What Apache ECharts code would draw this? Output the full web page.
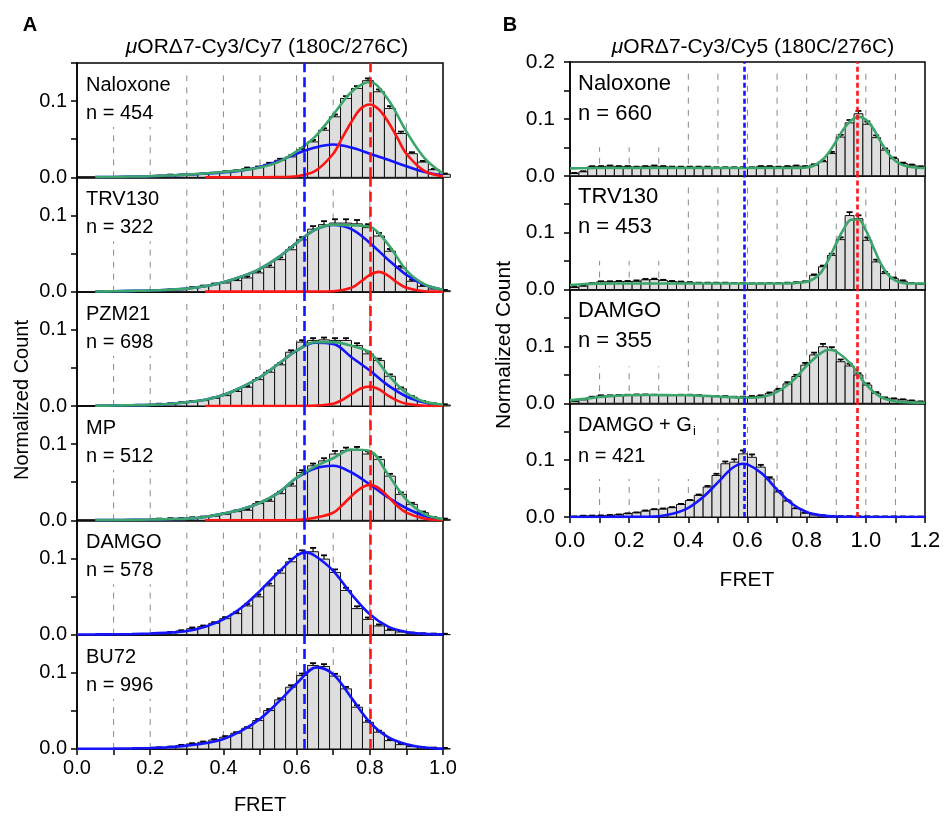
<!DOCTYPE html>
<html><head><meta charset="utf-8">
<script src="https://cdn.jsdelivr.net/npm/echarts@6/dist/echarts.min.js"></script>
<style>html,body{margin:0;padding:0;background:#fff}#c{width:945px;height:816px}</style>
</head><body><div id="c"></div>
<script>
// ---------------- DATA ----------------
const BIN = 0.03; // histogram bin width (FRET)
const xLabelsA = ['0.0','0.2','0.4','0.6','0.8','1.0'];
const xLabelsB = ['0.0','0.2','0.4','0.6','0.8','1.0','1.2'];
const titleA = 'ORΔ7-Cy3/Cy7 (180C/276C)';
const titleB = 'ORΔ7-Cy3/Cy5 (180C/276C)';
const namesA = ['Naloxone','TRV130','PZM21','MP','DAMGO','BU72'];
const countsA = ['n = 454','n = 322','n = 698','n = 512','n = 578','n = 996'];
const namesB = ['Naloxone','TRV130','DAMGO','DAMGO + G'];
const countsB = ['n = 660','n = 453','n = 355','n = 421'];
const refA = {blue: 0.62, red: 0.80};
const refB = {blue: 0.59, red: 0.975};

// Panel A histograms (34 bins of 0.03 from 0)
const barsNalA = [0,0,0,0.0004,0.0005,0.0006,0.0008,0.0013,0.0026,0.0026,0.0035,0.004,0.0048,0.007,0.0083,0.0114,0.0127,0.0171,0.0224,0.0268,0.0364,0.0465,0.0618,0.0794,0.1035,0.1167,0.1268,0.1123,0.0904,0.0575,0.031,0.020,0.010,0.004];
const barsTrvA = [0,0,0,0,0.0004,0.0006,0.0008,0.0013,0.0018,0.0026,0.005,0.007,0.0092,0.0114,0.0145,0.018,0.0246,0.032,0.042,0.055,0.068,0.082,0.088,0.090,0.090,0.089,0.084,0.073,0.053,0.031,0.0136,0.007,0.0035,0.0013];
const barsPzmA = [0,0,0,0.0005,0.001,0.0013,0.0016,0.002,0.0026,0.004,0.0057,0.007,0.010,0.0136,0.019,0.0246,0.0346,0.0443,0.054,0.0706,0.0838,0.086,0.0868,0.086,0.086,0.0794,0.0684,0.0596,0.039,0.0224,0.0114,0.0057,0.0026,0.0013];
const barsMpA  = [0,0,0,0,0.0004,0.0006,0.0008,0.0013,0.0018,0.002,0.003,0.004,0.0055,0.0079,0.0114,0.0132,0.022,0.025,0.035,0.045,0.0627,0.0715,0.078,0.087,0.0914,0.0923,0.087,0.080,0.058,0.034,0.021,0.010,0.0035,0.0013];
const barsDamA = [0.0002,0.0002,0.0003,0.0004,0.0005,0.0008,0.001,0.0013,0.0026,0.0048,0.0079,0.0105,0.0149,0.021,0.0276,0.0377,0.0496,0.064,0.0807,0.0956,0.1066,0.1088,0.0991,0.0816,0.058,0.0342,0.020,0.0114,0.0057,0.0035,0.0018,0.0009,0.0004,0.0002];
const barsBuA  = [0.0002,0.0002,0.0003,0.0004,0.0006,0.0008,0.001,0.0013,0.0022,0.0044,0.0066,0.0088,0.0118,0.0154,0.0206,0.0272,0.0373,0.0504,0.0645,0.0811,0.0965,0.1096,0.1083,0.0956,0.0789,0.0548,0.0351,0.022,0.011,0.0057,0.0031,0.0013,0.0009,0.0004];

const errNalA = [0,0,0,0,0,0,0,0.001,0.001,0.001,0.001,0.001,0.001,0.001,0.001,0.0015,0.0015,0.002,0.002,0.002,0.002,0.0025,0.0025,0.003,0.003,0.003,0.003,0.003,0.003,0.0025,0.002,0.0015,0.001,0.001];
const errTrvA = [0,0,0,0,0,0,0,0.001,0.001,0.001,0.001,0.001,0.0015,0.0015,0.0015,0.002,0.002,0.0025,0.003,0.003,0.0035,0.004,0.0045,0.005,0.005,0.005,0.0045,0.004,0.003,0.0025,0.002,0.0015,0.001,0.001];
const errPzmA = [0,0,0,0,0,0,0,0.001,0.001,0.001,0.001,0.001,0.001,0.0015,0.0015,0.0015,0.002,0.002,0.002,0.0025,0.0025,0.003,0.003,0.003,0.003,0.003,0.003,0.0025,0.0025,0.002,0.0015,0.001,0.001,0.001];
const errMpA  = [0,0,0,0,0,0,0,0.001,0.001,0.001,0.001,0.001,0.001,0.0015,0.0015,0.0015,0.002,0.002,0.0025,0.003,0.003,0.003,0.0035,0.004,0.004,0.004,0.0035,0.003,0.003,0.0025,0.002,0.0015,0.001,0.001];
const errDamA = [0,0,0,0,0,0,0,0.001,0.001,0.001,0.0015,0.0015,0.0015,0.002,0.002,0.0025,0.003,0.003,0.0035,0.004,0.004,0.005,0.005,0.004,0.0035,0.003,0.0025,0.002,0.0015,0.001,0.001,0.001,0.001,0.001];
const errBuA  = [0,0,0,0,0,0,0,0.001,0.001,0.001,0.001,0.001,0.001,0.0015,0.0015,0.0015,0.002,0.002,0.002,0.0025,0.0025,0.003,0.003,0.003,0.0025,0.0025,0.002,0.002,0.0015,0.0015,0.001,0.001,0.001,0.001];

// Panel A fitted curves as [FRET, count]
const greenNalA = [[0.05,0.0003],[0.1,0.0005],[0.15,0.001],[0.2,0.0015],[0.25,0.0025],[0.3,0.0035],[0.35,0.005],[0.4,0.007],[0.45,0.0095],[0.5,0.013],[0.55,0.02],[0.6,0.034],[0.65,0.053],[0.7,0.082],[0.75,0.112],[0.8,0.125],[0.85,0.102],[0.9,0.06],[0.95,0.025],[1.0,0.005]];
const redNalA = [[0.35,0],[0.45,0],[0.55,0.0003],[0.6,0.0015],[0.65,0.008],[0.7,0.031],[0.725,0.052],[0.75,0.073],[0.775,0.090],[0.8,0.0956],[0.825,0.089],[0.85,0.073],[0.875,0.052],[0.9,0.031],[0.95,0.008],[1.0,0.0015]];
const blueNalA = [[0.05,0.0003],[0.1,0.0005],[0.15,0.001],[0.2,0.0015],[0.25,0.0025],[0.3,0.0035],[0.35,0.005],[0.4,0.0065],[0.45,0.009],[0.5,0.0135],[0.55,0.021],[0.6,0.031],[0.65,0.039],[0.7,0.043],[0.75,0.039],[0.8,0.031],[0.85,0.023],[0.9,0.0145],[0.95,0.007],[1.0,0.0025]];

const greenTrvA = [[0.05,0.0003],[0.1,0.0005],[0.15,0.001],[0.2,0.0015],[0.25,0.0025],[0.3,0.004],[0.35,0.007],[0.4,0.0125],[0.45,0.02],[0.5,0.03],[0.55,0.045],[0.6,0.064],[0.65,0.081],[0.7,0.088],[0.75,0.087],[0.8,0.085],[0.85,0.062],[0.9,0.028],[0.95,0.0095],[1.0,0.0026]];
const redTrvA = [[0.35,0],[0.6,0],[0.7,0.0005],[0.75,0.005],[0.775,0.013],[0.8,0.022],[0.825,0.026],[0.85,0.021],[0.875,0.012],[0.9,0.005],[0.95,0.0005],[1.0,0]];
const blueTrvA = [[0.05,0.0003],[0.1,0.0005],[0.15,0.001],[0.2,0.0015],[0.25,0.0025],[0.3,0.004],[0.35,0.007],[0.4,0.0125],[0.45,0.02],[0.5,0.03],[0.55,0.045],[0.6,0.064],[0.65,0.081],[0.7,0.0875],[0.75,0.082],[0.8,0.064],[0.85,0.042],[0.9,0.022],[0.95,0.009],[1.0,0.0025]];

const greenPzmA = [[0.05,0.0003],[0.1,0.0006],[0.15,0.001],[0.2,0.0015],[0.25,0.0026],[0.3,0.005],[0.35,0.0083],[0.4,0.0145],[0.45,0.0246],[0.5,0.0377],[0.55,0.055],[0.6,0.0728],[0.65,0.0838],[0.7,0.0838],[0.75,0.079],[0.8,0.070],[0.85,0.041],[0.9,0.017],[0.95,0.0055],[1.0,0.002]];
const redPzmA = [[0.35,0],[0.6,0],[0.65,0.0005],[0.7,0.003],[0.725,0.008],[0.75,0.0155],[0.775,0.023],[0.8,0.0255],[0.825,0.022],[0.85,0.0135],[0.875,0.007],[0.9,0.003],[0.95,0.0003],[1.0,0]];
const bluePzmA = [[0.05,0.0003],[0.1,0.0006],[0.15,0.001],[0.2,0.0015],[0.25,0.0026],[0.3,0.005],[0.35,0.0083],[0.4,0.0145],[0.45,0.0246],[0.5,0.0377],[0.55,0.055],[0.6,0.0725],[0.65,0.083],[0.7,0.0815],[0.75,0.064],[0.8,0.0465],[0.85,0.027],[0.9,0.0125],[0.95,0.0045],[1.0,0.001]];

const greenMpA = [[0.05,0.0002],[0.1,0.0003],[0.15,0.0006],[0.2,0.001],[0.25,0.0015],[0.3,0.0022],[0.35,0.0044],[0.4,0.0088],[0.45,0.0145],[0.5,0.023],[0.55,0.036],[0.6,0.056],[0.65,0.0705],[0.7,0.0815],[0.75,0.093],[0.8,0.091],[0.85,0.06],[0.9,0.027],[0.95,0.008],[1.0,0.0015]];
const redMpA = [[0.35,0],[0.55,0],[0.6,0.0005],[0.65,0.0035],[0.7,0.010],[0.725,0.020],[0.75,0.032],[0.775,0.042],[0.8,0.0465],[0.825,0.042],[0.85,0.031],[0.875,0.019],[0.9,0.010],[0.95,0.002],[1.0,0.0003]];
const blueMpA = [[0.05,0.0002],[0.1,0.0003],[0.15,0.0006],[0.2,0.001],[0.25,0.0015],[0.3,0.0022],[0.35,0.0044],[0.4,0.0088],[0.45,0.0145],[0.5,0.023],[0.55,0.036],[0.6,0.0555],[0.65,0.068],[0.7,0.0715],[0.75,0.0627],[0.8,0.047],[0.85,0.030],[0.9,0.0158],[0.95,0.0057],[1.0,0.0013]];

const blueDamA = [[0,0.0002],[0.05,0.0003],[0.1,0.0005],[0.15,0.0008],[0.2,0.0015],[0.25,0.0026],[0.3,0.0048],[0.35,0.0105],[0.4,0.020],[0.45,0.0355],[0.5,0.0575],[0.55,0.0816],[0.6,0.1035],[0.625,0.108],[0.65,0.1035],[0.7,0.0838],[0.75,0.053],[0.8,0.0268],[0.85,0.0105],[0.9,0.0035],[0.95,0.001],[1.0,0.0003]];
const blueBuA = [[0,0.0002],[0.05,0.0003],[0.1,0.0005],[0.15,0.0008],[0.2,0.0013],[0.25,0.0022],[0.3,0.0044],[0.35,0.0075],[0.4,0.013],[0.45,0.024],[0.5,0.0395],[0.55,0.0614],[0.6,0.086],[0.655,0.107],[0.7,0.098],[0.75,0.067],[0.8,0.035],[0.85,0.0155],[0.9,0.0062],[0.95,0.002],[1.0,0.0005]];

// Panel B histograms (40 bins of 0.03 from 0)
const barsNalB = [0.004,0.007,0.0158,0.016,0.017,0.016,0.016,0.015,0.016,0.017,0.016,0.015,0.015,0.015,0.015,0.015,0.014,0.014,0.014,0.014,0.014,0.016,0.016,0.015,0.016,0.017,0.016,0.0187,0.0246,0.039,0.068,0.093,0.109,0.0906,0.067,0.045,0.030,0.0216,0.0187,0.0158];
const barsTrvB = [0.0035,0.006,0.0105,0.0135,0.0135,0.014,0.014,0.0145,0.017,0.0175,0.016,0.014,0.013,0.012,0.011,0.011,0.011,0.011,0.0105,0.0105,0.01,0.01,0.0105,0.0105,0.011,0.012,0.0135,0.025,0.040,0.060,0.0877,0.130,0.1245,0.0865,0.0485,0.028,0.019,0.0146,0.0105,0.0094];
const barsDamB = [0.003,0.006,0.0105,0.013,0.013,0.0135,0.014,0.0145,0.0145,0.014,0.0135,0.0135,0.014,0.014,0.0135,0.012,0.0117,0.0117,0.0105,0.0105,0.0117,0.013,0.0175,0.0234,0.034,0.047,0.067,0.085,0.0994,0.0936,0.073,0.0655,0.0497,0.032,0.0175,0.0088,0.0076,0.006,0.004,0.0023];
const barsGiB  = [0.0006,0.0018,0.002,0.0023,0.003,0.004,0.006,0.0076,0.0105,0.0129,0.014,0.0164,0.022,0.029,0.038,0.0526,0.073,0.0936,0.0965,0.111,0.105,0.0877,0.067,0.0439,0.028,0.0146,0.007,0.004,0.0023,0.0015,0.001,0.001,0.0008,0.0008,0.0006,0.0005,0.0005,0.0004,0.0003,0.0003];

const errNalB = [0.001,0.001,0.001,0.001,0.001,0.001,0.001,0.001,0.001,0.001,0.001,0.001,0.001,0.001,0.001,0.001,0.001,0.001,0.001,0.001,0.001,0.001,0.001,0.001,0.001,0.001,0.001,0.0015,0.002,0.003,0.004,0.005,0.005,0.005,0.004,0.003,0.002,0.0015,0.001,0.001];
const errTrvB = [0.001,0.001,0.001,0.001,0.001,0.001,0.001,0.0015,0.0015,0.0015,0.001,0.001,0.001,0.001,0.001,0.001,0.001,0.001,0.001,0.001,0.001,0.001,0.001,0.001,0.001,0.001,0.001,0.0015,0.002,0.003,0.004,0.006,0.006,0.005,0.004,0.003,0.002,0.0015,0.001,0.001];
const errDamB = [0.001,0.001,0.001,0.001,0.001,0.001,0.001,0.001,0.001,0.001,0.001,0.001,0.001,0.001,0.001,0.001,0.001,0.001,0.001,0.001,0.001,0.001,0.0015,0.002,0.003,0.003,0.004,0.004,0.005,0.005,0.004,0.004,0.003,0.003,0.002,0.0015,0.001,0.001,0.001,0.001];
const errGiB  = [0.0005,0.0005,0.0005,0.0005,0.0005,0.0005,0.0005,0.0005,0.001,0.001,0.001,0.001,0.001,0.001,0.0015,0.002,0.003,0.004,0.005,0.006,0.005,0.004,0.003,0.002,0.0015,0.001,0.0005,0.0005,0.0005,0.0005,0.0005,0.0005,0.0005,0.0005,0.0005,0.0005,0.0005,0.0005,0.0005,0.0005];

const greenNalB = [[0,0.013],[0.1,0.0135],[0.2,0.0135],[0.3,0.0135],[0.4,0.0135],[0.5,0.0135],[0.6,0.0135],[0.7,0.0135],[0.775,0.0138],[0.8,0.0145],[0.825,0.018],[0.85,0.0265],[0.875,0.041],[0.9,0.061],[0.925,0.082],[0.95,0.097],[0.975,0.1035],[1.0,0.099],[1.025,0.083],[1.05,0.06],[1.075,0.04],[1.1,0.026],[1.125,0.019],[1.15,0.0155],[1.2,0.0135]];
const greenTrvB = [[0,0.008],[0.05,0.0098],[0.1,0.0103],[0.2,0.0105],[0.3,0.0105],[0.4,0.0105],[0.5,0.0105],[0.6,0.0105],[0.7,0.0105],[0.75,0.011],[0.8,0.0135],[0.825,0.019],[0.85,0.031],[0.875,0.054],[0.9,0.081],[0.925,0.106],[0.95,0.1225],[0.975,0.123],[1.0,0.104],[1.025,0.075],[1.05,0.046],[1.075,0.026],[1.1,0.0155],[1.125,0.0115],[1.15,0.0105],[1.2,0.0105]];
const greenDamB = [[0,0.005],[0.05,0.008],[0.1,0.011],[0.15,0.013],[0.2,0.014],[0.25,0.0145],[0.3,0.0145],[0.35,0.014],[0.4,0.014],[0.45,0.013],[0.5,0.012],[0.55,0.0105],[0.6,0.0097],[0.65,0.011],[0.7,0.02],[0.75,0.038],[0.8,0.066],[0.85,0.089],[0.875,0.094],[0.9,0.091],[0.95,0.069],[1.0,0.033],[1.05,0.011],[1.1,0.003],[1.15,0.0015],[1.2,0.001]];
const blueGiB = [[0,0],[0.1,0.0001],[0.2,0.0002],[0.25,0.0004],[0.3,0.0014],[0.35,0.006],[0.4,0.016],[0.45,0.035],[0.5,0.061],[0.55,0.0865],[0.585,0.0935],[0.6,0.0925],[0.65,0.076],[0.7,0.048],[0.75,0.0234],[0.8,0.0088],[0.85,0.0028],[0.9,0.0008],[1.0,0.0001],[1.2,0]];

// ---------------- STYLE / LAYOUT ----------------
const BLUE = '#1414ff', RED = '#ff1414', GREEN = '#3ca56b';
const FONT = '"Liberation Sans", Arial, Helvetica, sans-serif';
const PA = {left:77, width:366, top:63, h:114.33, n:6, xmax:1.0, ymax:0.15, ref:refA, dash:[10,5],
            labX:86, labFont:20, d1:22.5, d2:50.5, tickFont:20, yMargin:10, xMargin:10};
const PB = {left:570, width:355, top:62, h:113.75, n:4, xmax:1.2, ymax:0.2, ref:refB, dash:[5,3],
            labX:578, labFont:22, d1:21.5, d2:51.5, tickFont:21, yMargin:15, xMargin:13};
const guideA = {shortX:[0.1,0.2], shortTop:0.066, longX:[0.3,0.4,0.5,0.6,0.7,0.8,0.9], longTop:0.142};
const guideB = [
  {shortX:[0.1,0.2,0.3], shortTop:0.05, longX:[0.4,0.5,0.6,0.7,0.8,0.9,1.0,1.1], longTop:0.18},
  {shortX:[0.1,0.2,0.3], shortTop:0.05, longX:[0.4,0.5,0.6,0.7,0.8,0.9,1.0,1.1], longTop:0.18},
  {shortX:[0.1,0.2,0.3], shortTop:0.065, longX:[0.4,0.5,0.6,0.7,0.8,0.9,1.0,1.1], longTop:0.19},
  {shortX:[0.1,0.2,0.3,0.4], shortTop:0.067, longX:[0.5,0.6,0.7,0.8,0.9,1.0,1.1], longTop:0.175}
];

const subplots = [
  {P:PA, idx:0, name:namesA[0], cnt:countsA[0], bars:barsNalA, err:errNalA, guide:guideA, curves:[[blueNalA,BLUE],[redNalA,RED],[greenNalA,GREEN]]},
  {P:PA, idx:1, name:namesA[1], cnt:countsA[1], bars:barsTrvA, err:errTrvA, guide:guideA, curves:[[blueTrvA,BLUE],[redTrvA,RED],[greenTrvA,GREEN]]},
  {P:PA, idx:2, name:namesA[2], cnt:countsA[2], bars:barsPzmA, err:errPzmA, guide:guideA, curves:[[bluePzmA,BLUE],[redPzmA,RED],[greenPzmA,GREEN]]},
  {P:PA, idx:3, name:namesA[3], cnt:countsA[3], bars:barsMpA,  err:errMpA,  guide:guideA, curves:[[blueMpA,BLUE],[redMpA,RED],[greenMpA,GREEN]]},
  {P:PA, idx:4, name:namesA[4], cnt:countsA[4], bars:barsDamA, err:errDamA, guide:guideA, curves:[[blueDamA,BLUE]]},
  {P:PA, idx:5, name:namesA[5], cnt:countsA[5], bars:barsBuA,  err:errBuA,  guide:guideA, curves:[[blueBuA,BLUE]]},
  {P:PB, idx:0, name:namesB[0], cnt:countsB[0], bars:barsNalB, err:errNalB, guide:guideB[0], curves:[[greenNalB,GREEN]]},
  {P:PB, idx:1, name:namesB[1], cnt:countsB[1], bars:barsTrvB, err:errTrvB, guide:guideB[1], curves:[[greenTrvB,GREEN]]},
  {P:PB, idx:2, name:namesB[2], cnt:countsB[2], bars:barsDamB, err:errDamB, guide:guideB[2], curves:[[greenDamB,GREEN]]},
  {P:PB, idx:3, name:namesB[3], cnt:countsB[3], bars:barsGiB,  err:errGiB,  guide:guideB[3], curves:[[blueGiB,BLUE]], sub:'i', small:true}
];

const chart = echarts.init(document.getElementById('c'), null, {renderer:'canvas'});
const option = {animation:false, backgroundColor:'#fff', textStyle:{fontFamily:FONT},
  grid:[], xAxis:[], yAxis:[], series:[], graphic:[]};

function renderBar(p, api){
  const x0 = api.value(0), x1 = api.value(1), v = api.value(2);
  const a = api.coord([x0, 0]), b = api.coord([x1, v]);
  return {type:'rect', shape:{x:a[0], y:b[1], width:b[0]-a[0], height:a[1]-b[1]},
          style:{fill:'#dedede', stroke:'#111', lineWidth:1}};
}
function renderErr(p, api){
  const x = api.value(0), v = api.value(1), e = api.value(2);
  if (!e) return {type:'group', children:[]};
  const a = api.coord([x, v]), b = api.coord([x, v+e]);
  return {type:'group', children:[
    {type:'line', shape:{x1:a[0], y1:a[1], x2:b[0], y2:b[1]}, style:{stroke:'#000', lineWidth:1.2}},
    {type:'line', shape:{x1:b[0]-3, y1:b[1], x2:b[0]+3, y2:b[1]}, style:{stroke:'#000', lineWidth:1.8}}
  ]};
}
function renderGuide(p, api){
  const x = api.value(0), t = api.value(1);
  const a = api.coord([x, 0]), b = api.coord([x, t]);
  return {type:'line', shape:{x1:a[0], y1:a[1], x2:b[0], y2:b[1]},
          style:{stroke:'#8a8a8a', lineWidth:1, lineDash:[6,6]}};
}

subplots.forEach((s, g) => {
  const P = s.P, idx = s.idx;
  const top = P.top + idx * P.h;
  const isBottom = idx === P.n - 1, isTop = idx === 0;
  const xLabels = P === PA ? xLabelsA : xLabelsB;
  option.grid.push({left:P.left, top:top, width:P.width, height:P.h, show:true,
    borderColor:'#000', borderWidth:1.5, backgroundColor:'rgba(0,0,0,0)'});
  option.xAxis.push({type:'value', gridIndex:g, min:0, max:P.xmax, interval:0.1,
    axisLine:{show:true, onZero:false, lineStyle:{color:'#000', width:1.5}},
    axisTick:{show:isBottom, length:6, lineStyle:{color:'#000', width:1.5}},
    axisLabel:{show:isBottom, color:'#000', fontSize:P === PA ? 20 : 22, fontFamily:FONT, margin:P.xMargin,
      formatter: v => { const t = Math.round(v*10); return t % 2 === 0 ? (xLabels[t/2] || '') : ''; }},
    splitLine:{show:false}});
  option.yAxis.push({type:'value', gridIndex:g, min:0, max:P.ymax, interval:0.05,
    axisLine:{show:true, onZero:false, lineStyle:{color:'#000', width:1.5}},
    axisTick:{show:true, length:6, lineStyle:{color:'#000', width:1.5}},
    axisLabel:{color:'#000', fontSize:P.tickFont, fontFamily:FONT, margin:P.yMargin,
      formatter: v => { const r = Math.round(v*100); if (r === 0) return '0.0'; if (r === 10) return '0.1';
        if (r === 20 && isTop) return '0.2'; return ''; }},
    splitLine:{show:false}});

  const gd = s.guide.shortX.map(x => [x, s.guide.shortTop]).concat(s.guide.longX.map(x => [x, s.guide.longTop]));
  option.series.push({type:'custom', xAxisIndex:g, yAxisIndex:g, z:1, silent:true, data:gd, renderItem:renderGuide});
  option.series.push({type:'custom', xAxisIndex:g, yAxisIndex:g, z:2, silent:true, clip:false,
    data:s.bars.map((v,k) => [k*BIN, (k+1)*BIN, v]), renderItem:renderBar});
  option.series.push({type:'custom', xAxisIndex:g, yAxisIndex:g, z:3, silent:true, clip:false,
    data:s.bars.map((v,k) => [(k+0.5)*BIN, v, s.err[k]]), renderItem:renderErr});
  s.curves.forEach(([d, c]) => {
    option.series.push({type:'line', xAxisIndex:g, yAxisIndex:g, z:4, silent:true, data:d,
      smooth:0.35, showSymbol:false, symbol:'none',
      lineStyle:{color:c, width:2.6}, clip:true});
  });
  option.series.push({type:'line', xAxisIndex:g, yAxisIndex:g, z:6, silent:true, data:[[0,0]],
    showSymbol:false, symbol:'none', lineStyle:{opacity:0},
    markLine:{silent:true, symbol:['none','none'], label:{show:false}, animation:false,
      data:[{xAxis:P.ref.blue, lineStyle:{color:BLUE, type:P.dash, width:2.6}},
            {xAxis:P.ref.red, lineStyle:{color:RED, type:P.dash, width:2.6}}]}});

  const fs = s.small ? 20 : P.labFont;
  const d1 = s.small ? 22 : P.d1, d2 = s.small ? 53 : P.d2;
  option.graphic.push({type:'text', x:P.labX, y:top + d1, z:10,
    style:{text:s.name, fontSize:fs, fontFamily:FONT, fill:'#000', align:'left', verticalAlign:'middle'}});
  option.graphic.push({type:'text', x:P.labX, y:top + d2, z:10,
    style:{text:s.cnt, fontSize:fs, fontFamily:FONT, fill:'#000', align:'left', verticalAlign:'middle'}});
  if (s.sub) {
    option.graphic.push({type:'text', x:P.labX + 115, y:top + d1 + 6, z:10,
      style:{text:s.sub, fontSize:13, fontFamily:FONT, fill:'#000', align:'left', verticalAlign:'middle'}});
  }
});

const txt = (t, x, y, size, extra) => Object.assign({type:'text', x:x, y:y, z:10,
  style:Object.assign({text:t, fontSize:size, fontFamily:FONT, fill:'#000', align:'center', verticalAlign:'middle'}, extra || {})});
option.graphic.push(txt('A', 30, 25, 20, {fontWeight:'bold'}));
option.graphic.push(txt('B', 510, 25, 20, {fontWeight:'bold'}));
option.graphic.push(txt('{i|μ}' + titleA, 267, 47, 21, {rich:{i:{fontStyle:'italic', fontSize:21, fontFamily:FONT}}}));
option.graphic.push(txt('{i|μ}' + titleB, 753, 47, 21, {rich:{i:{fontStyle:'italic', fontSize:21, fontFamily:FONT}}}));
option.graphic.push(Object.assign(txt('Normalized Count', 22, 400, 20), {rotation:Math.PI/2}));
option.graphic.push(Object.assign(txt('Normalized Count', 504, 345, 21), {rotation:Math.PI/2}));
option.graphic.push(txt('FRET', 260, 805, 20));
option.graphic.push(txt('FRET', 747, 580, 21));

chart.setOption(option);
</script></body></html>
